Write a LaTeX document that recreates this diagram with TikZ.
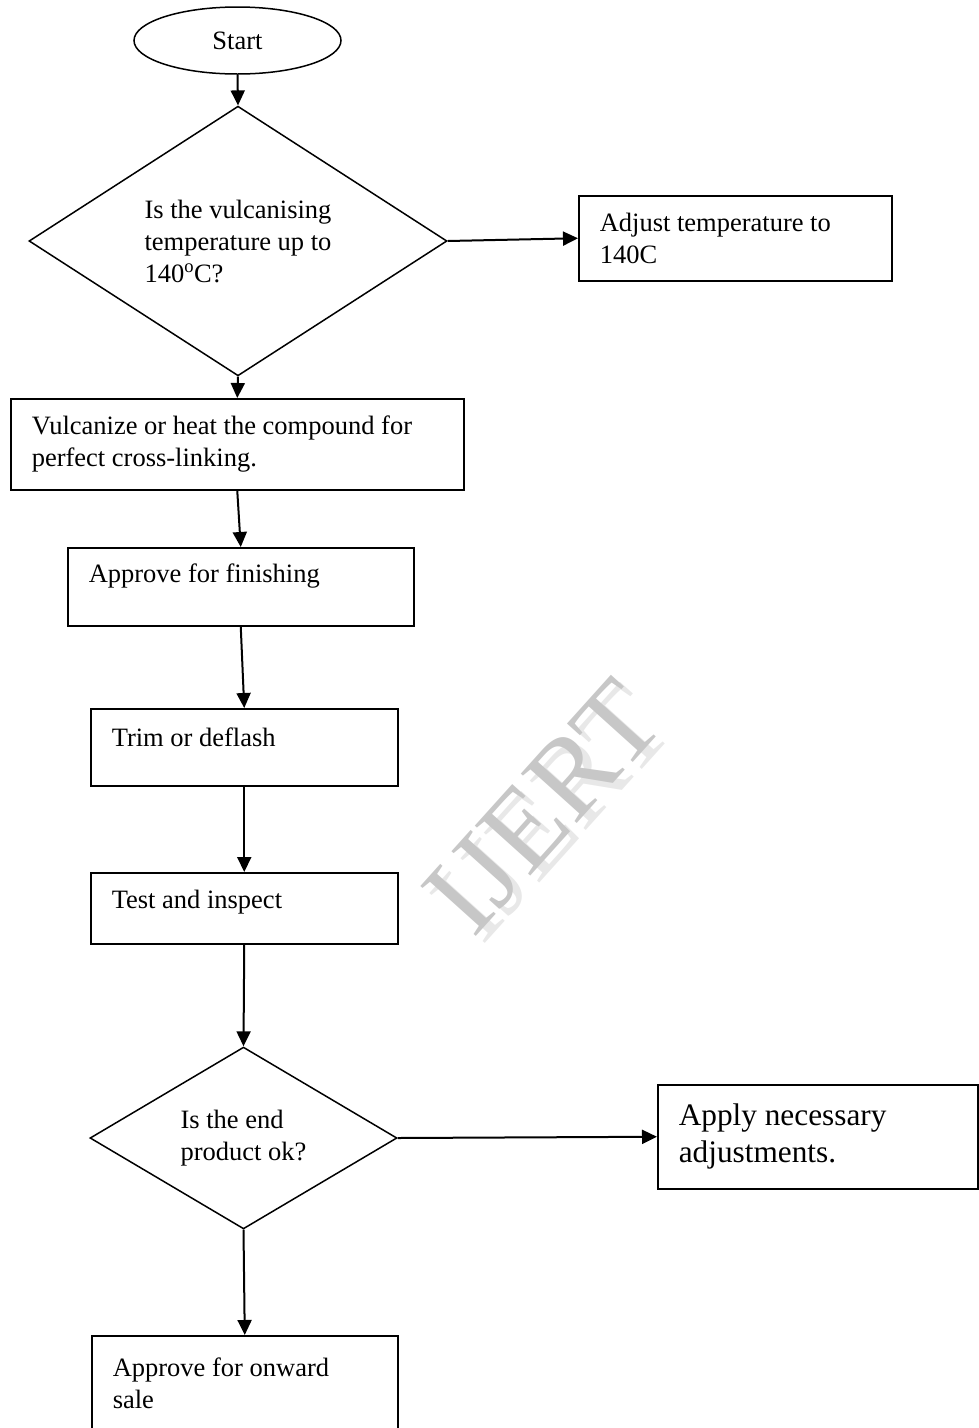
\documentclass[tikz,border=0pt]{standalone}
\usepackage{fontspec}
\setmainfont{Liberation Serif}
\usepackage{tikz}
\usetikzlibrary{shapes.geometric,arrows.meta}
\newcommand{\stepfont}{\fontsize{26.5}{32}\selectfont}
\newcommand{\bigstepfont}{\fontsize{31.3}{37}\selectfont}
\tikzset{
  procbox/.style={draw, rectangle, line width=1.5pt, inner xsep=21pt, inner ysep=0pt,
                  align=flush left, anchor=north west, font=\stepfont},
  oneline/.style={text height=18pt, text depth=#1},
  decision/.style={draw, diamond, line width=1.5pt, inner sep=0pt, align=flush left, font=\stepfont},
  flow/.style={line width=2pt, -{Triangle[length=15pt,width=14pt]}},
  wmtext/.style={rotate=48, font=\fontsize{114}{114}\selectfont}
}

\begin{document}
\begin{tikzpicture}[x=1pt,y=-1pt]
\useasboundingbox (0,0) rectangle (979,1428);
% watermark
\node[wmtext, text=black!9] (wmshadow) at (552,814) {IJERT};
\node[wmtext, text=black!22] (wmark) at (543,807) {IJERT};

\node[draw, ellipse, line width=1.5pt, minimum width=207pt, minimum height=67pt,
      font=\stepfont] (start) at (237.5,40.5) {Start};
\node[decision, minimum width=418pt, minimum height=226pt] (tempcheck) at (238,241)
  {Is the vulcanising\\temperature up to\\140\textsuperscript{o}C?};
\node[procbox, text width=271pt, minimum height=85pt] (adjusttemp) at (578,195)
  {Adjust temperature to\\140C};
\node[procbox, text width=411pt, minimum height=91pt] (vulcanize) at (10,398)
  {Vulcanize or heat the compound for\\perfect cross-linking.};
\node[procbox, oneline=26pt, text width=304pt, minimum height=78pt] (approvefin) at (67,547)
  {Approve for finishing};
\node[procbox, oneline=20pt, text width=265pt, minimum height=77pt] (trim) at (90,708)
  {Trim or deflash};
\node[procbox, oneline=17pt, text width=265pt, minimum height=71pt] (testinspect) at (90,872)
  {Test and inspect};
\node[decision, minimum width=307pt, minimum height=172pt] (endcheck) at (243.5,1138)
  {Is the end\\product ok?};
\node[procbox, font=\bigstepfont, text width=278pt, minimum height=104pt] (adjustments) at (657,1084)
  {Apply necessary\\adjustments.};
\node[procbox, text width=264pt, minimum height=95pt] (approvesale) at (91,1335)
  {Approve for onward\\sale};

% connectors
\draw[flow] (start.south) -- (tempcheck.north);
\draw[flow] (tempcheck.east) -- (adjusttemp.west);
\draw[flow] (tempcheck.south) -- (vulcanize.north);
\draw[flow] (vulcanize.south) -- (approvefin.north);
\draw[flow] (approvefin.south) -- (trim.north);
\draw[flow] (trim.south) -- (testinspect.north);
\draw[flow] (testinspect.south) -- (endcheck.north);
\draw[flow] (endcheck.east) -- (adjustments.west);
\draw[flow] (endcheck.south) -- (approvesale.north);
\end{tikzpicture}
\end{document}
